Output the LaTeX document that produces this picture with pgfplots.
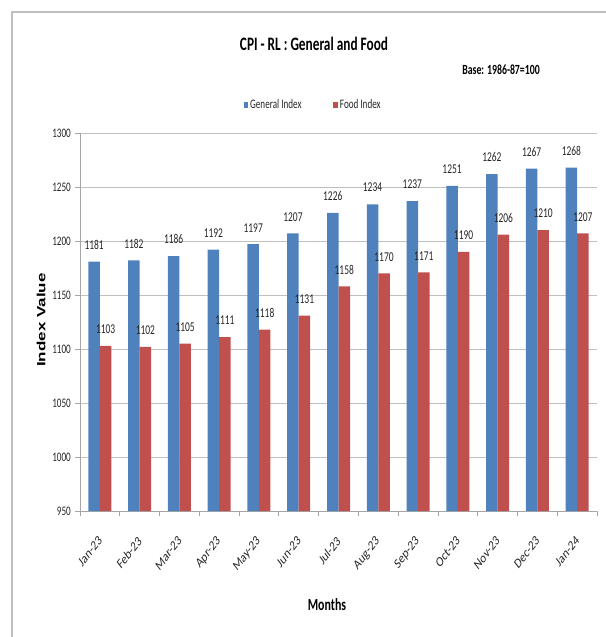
\documentclass[border=0pt]{standalone}
\usepackage{fontspec}
\setmainfont{Carlito}[FakeStretch=0.7]
\newfontfamily\plainfont{Carlito}
\newfontfamily\ylabfont{Liberation Sans}
\usepackage{graphicx}
\usepackage{pgfplots}
\pgfplotsset{compat=1.18}
\definecolor{genblue}{HTML}{4F81BD}
\definecolor{foodred}{HTML}{C0504D}
\definecolor{gridgray}{HTML}{BFBFBF}
\definecolor{axgray}{HTML}{A6A6A6}
\definecolor{txt}{HTML}{262626}
\newcommand\xl[1]{\scalebox{0.77}[1]{\rotatebox{45}{\plainfont\fontsize{14}{16}\selectfont #1}}}
\begin{document}
\begin{tikzpicture}
\useasboundingbox (-80pt,-126pt) rectangle (525pt,511pt);
\draw[color=gridgray, line width=1.3pt] (-68pt,-130pt) -- (-68pt,499pt) -- (530pt,499pt);
\begin{axis}[
  at={(0pt,0pt)}, anchor=south west,
  width=517pt, height=378pt, scale only axis,
  ybar=0pt, bar width=11.5pt,
  xmin=-0.5, xmax=12.5, ymin=950, ymax=1300,
  xtick={0,...,12},
  xticklabels={\xl{Jan-23},\xl{Feb-23},\xl{Mar-23},\xl{Apr-23},\xl{May-23},\xl{Jun-23},\xl{Jul-23},\xl{Aug-23},\xl{Sep-23},\xl{Oct-23},\xl{Nov-23},\xl{Dec-23},\xl{Jan-24}},
  minor xtick={-0.5,0.5,...,12.5},
  major x tick style={draw=none},
  minor x tick style={color=axgray, line width=0.8pt},
  ytick={950,1000,...,1300},
  y tick style={color=axgray, line width=0.8pt},
  tick align=outside, major tick length=5pt, minor tick length=5pt,
  axis x line*=bottom, axis y line*=left,
  axis line style={-, color=axgray, line width=0.8pt},
  ymajorgrids, grid style={color=gridgray, line width=0.8pt},
  /pgf/number format/assume math mode=true,
  /pgf/number format/set thousands separator={},
  yticklabel style={font=\fontsize{13}{15}\selectfont, text=txt, inner sep=0pt, xshift=-4pt},
  xticklabel style={anchor=north east, inner sep=0pt, xshift=3pt, yshift=-19pt, text=txt},
  clip=false,
  nodes near coords,
  every node near coord/.append style={font=\fontsize{13.5}{15}\selectfont, text=txt, anchor=south, inner sep=0pt, yshift=12pt},
  legend style={at={(0.451,1.074)}, anchor=center, draw=none, fill=none,
    font=\fontsize{13}{15}\selectfont, text=txt,
    legend columns=2, /tikz/every even column/.append style={column sep=30pt}},
  legend image code/.code={\fill[#1] (0pt,-2.8pt) rectangle (4.5pt,2.8pt);},
]
\addplot[fill=genblue, draw=none] coordinates {
(0,1181) (1,1182) (2,1186) (3,1192) (4,1197) (5,1207) (6,1226) (7,1234) (8,1237) (9,1251) (10,1262) (11,1267) (12,1268)};
\addplot[fill=foodred, draw=none] coordinates {
(0,1103) (1,1102) (2,1105) (3,1111) (4,1118) (5,1131) (6,1158) (7,1170) (8,1171) (9,1190) (10,1206) (11,1210) (12,1207)};
\legend{General Index, Food Index}
\end{axis}
\node[text=black, font=\bfseries\fontsize{19}{22}\selectfont] at (234pt,467pt) {CPI - RL : General and Food};
\node[text=black, font=\bfseries\fontsize{14}{16}\selectfont] at (421pt,441pt) {Base: 1986-87=100};
\node[text=black, font=\bfseries\fontsize{17}{20}\selectfont] at (247pt,-94pt) {Months};
\node[text=black, inner sep=0pt] at (-39pt,191pt) {\rotatebox{90}{\scalebox{1}[0.7]{\ylabfont\bfseries\fontsize{17}{20}\selectfont Index Value}}};
\end{tikzpicture}
\end{document}
